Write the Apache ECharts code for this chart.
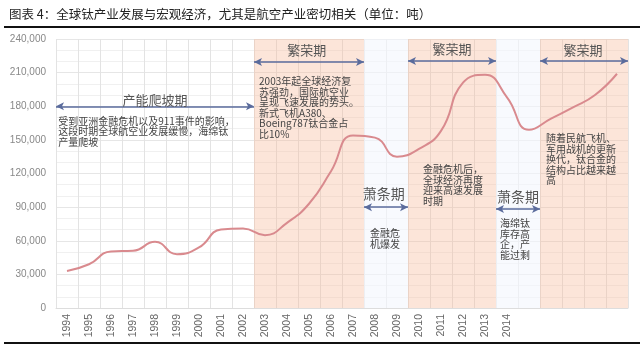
<!DOCTYPE html>
<html>
<head>
<meta charset="utf-8">
<script src="https://cdn.jsdelivr.net/npm/echarts@6/dist/echarts.min.js"></script>
<style>
html, body { margin: 0; padding: 0; background: #fff; }
#chart { width: 640px; height: 353px; }
</style>
</head>
<body>
<div id="chart"></div>
<script>
// 年份（2015 以后原图标签被遮挡）
var yearLabels = ['1994', '1995', '1996', '1997', '1998', '1999', '2000', '2001', '2002', '2003',
    '2004', '2005', '2006', '2007', '2008', '2009', '2010', '2011', '2012', '2013', '2014',
    '', '', '', '', ''];
// 海绵钛产量（吨）
var output = [33000, 39000, 50500, 51000, 59000, 48000, 54000, 70000, 71000, 65000,
    76000, 93000, 122000, 154000, 152000, 135000, 142000, 158000, 201000, 208000, 188000,
    159000, 169000, 179000, 190000, 209000];
var yTicks = [0, 240000, 30000];

// 周期区间（年份边界）
var boomSpans = [[2002.5, 2007.5], [2009.5, 2013.5], [2015.5, 2019.5]];
var slumpSpans = [[2007.5, 2009.5], [2013.5, 2015.5]];

// 箭头：起点年份, 终点年份, 高度
var arrows = [
    [1993.5, 2002.5, 180000],
    [2002.5, 2007.5, 219500],
    [2007.5, 2009.5, 90000],
    [2009.5, 2013.5, 220400],
    [2013.5, 2015.5, 88300],
    [2015.5, 2019.5, 220400]
];

// 周期标题：文字, 年份, 高度
var periodTitles = [
    ['产能爬坡期', 1998.0, 185600],
    ['繁荣期', 2004.9, 230200],
    ['萧条期', 2008.4, 101700],
    ['繁荣期', 2011.5, 231000],
    ['萧条期', 2014.5, 99000],
    ['繁荣期', 2017.45, 230000]
];

// 说明文字（左对齐）：文字, 年份, 高度（左上角）
var notes = [
    ['受到亚洲金融危机以及911事件的影响，\n这段时期全球航空业发展缓慢，海绵钛\n产量爬坡', 1993.6, 171500],
    ['2003年起全球经济复\n苏强劲，国际航空业\n呈现飞速发展的势头。\n新式飞机A380、\nBoeing787钛合金占\n比10%', 2002.73, 206800],
    ['金融危机后，\n全球经济再度\n迎来高速发展\n时期', 2010.18, 128500],
    ['海绵钛\n库存高\n企，产\n能过剩', 2013.68, 80300],
    ['随着民航飞机、\n军用战机的更新\n换代，钛合金的\n结构占比越来越\n高', 2015.77, 156100]
];
// 说明文字（居中）
var centerNotes = [
    ['金融危\n机爆发', 2008.45, 71400]
];

var cjk = "'Noto Sans CJK SC', sans-serif";
var chart = echarts.init(document.getElementById('chart'));

function noteLabel(text, align) {
    return {
        show: true, position: 'inside', formatter: text,
        color: '#444', fontSize: 10, lineHeight: 10.5, fontFamily: cjk,
        align: align, verticalAlign: 'top'
    };
}

var option = {
    animation: false,
    backgroundColor: '#fff',
    title: {
        text: '图表 4：全球钛产业发展与宏观经济，尤其是航空产业密切相关（单位：吨）',
        left: 4,
        top: 3,
        textStyle: { fontFamily: cjk, fontSize: 12.5, fontWeight: 'normal', color: '#222' }
    },
    graphic: [
        { type: 'line', shape: { x1: 4, y1: 27, x2: 640, y2: 27 }, style: { stroke: '#111', lineWidth: 2 } },
        { type: 'line', shape: { x1: 4, y1: 343, x2: 640, y2: 343 }, style: { stroke: '#111', lineWidth: 2 } }
    ],
    grid: { left: 56, right: 12, top: 39, bottom: 45 },
    xAxis: [{
        type: 'category',
        data: yearLabels,
        boundaryGap: true,
        axisTick: { show: false },
        axisLine: { lineStyle: { color: '#ddd' } },
        axisLabel: {
            rotate: 90, interval: 0, margin: 6,
            color: '#666', fontSize: 10.5, fontFamily: 'Liberation Sans'
        },
        splitLine: { show: true, interval: 0, lineStyle: { color: '#e3e3e3' } }
    }, {
        type: 'value',
        min: 1993.5,
        max: 2019.5,
        show: false
    }],
    yAxis: {
        type: 'value',
        min: yTicks[0],
        max: yTicks[1],
        interval: yTicks[2],
        axisLine: { show: false },
        axisTick: { show: false },
        axisLabel: {
            color: '#888', fontSize: 10, fontFamily: 'Liberation Sans', margin: 10,
            formatter: function (v) { return v.toLocaleString('en-US'); }
        },
        splitLine: { lineStyle: { color: '#e6e6e6' } },
        minorTick: { show: false, splitNumber: 3 },
        minorSplitLine: { show: true, lineStyle: { color: '#f0f0f0' } }
    },
    series: [{
        // 周期底色
        type: 'line',
        xAxisIndex: 1,
        data: [],
        z: 1,
        silent: true,
        markArea: {
            silent: true,
            data: boomSpans.map(function (s) {
                return [{ xAxis: s[0], itemStyle: { color: 'rgba(248,186,156,0.38)' } }, { xAxis: s[1] }];
            }).concat(slumpSpans.map(function (s) {
                return [{ xAxis: s[0], itemStyle: { color: 'rgba(244,247,253,0.6)' } }, { xAxis: s[1] }];
            }))
        }
    }, {
        name: '海绵钛产量',
        type: 'line',
        data: output,
        smooth: 0.5,
        symbol: 'none',
        z: 3,
        lineStyle: { color: '#d98a8e', width: 2 }
    }, {
        // 箭头与文字
        type: 'line',
        xAxisIndex: 1,
        data: [],
        z: 4,
        silent: true,
        markLine: {
            silent: true,
            symbol: ['arrow', 'arrow'],
            symbolSize: [6, 8],
            label: { show: false },
            lineStyle: { color: '#5a6b9c', width: 1.5, type: 'solid' },
            data: arrows.map(function (a) {
                return [{ coord: [a[0], a[2]] }, { coord: [a[1], a[2]] }];
            })
        },
        markPoint: {
            silent: true,
            symbol: 'circle',
            symbolSize: 0,
            itemStyle: { color: 'rgba(0,0,0,0)' },
            data: periodTitles.map(function (t) {
                return {
                    coord: [t[1], t[2]],
                    label: {
                        show: true, position: 'inside', formatter: t[0],
                        color: '#555', fontSize: t[0] === '萧条期' ? 14 : 13, fontFamily: cjk,
                        align: 'center', verticalAlign: 'middle'
                    }
                };
            }).concat(notes.map(function (n) {
                return { coord: [n[1], n[2]], label: noteLabel(n[0], 'left') };
            })).concat(centerNotes.map(function (n) {
                return { coord: [n[1], n[2]], label: noteLabel(n[0], 'center') };
            }))
        }
    }]
};
chart.setOption(option);
</script>
</body>
</html>
